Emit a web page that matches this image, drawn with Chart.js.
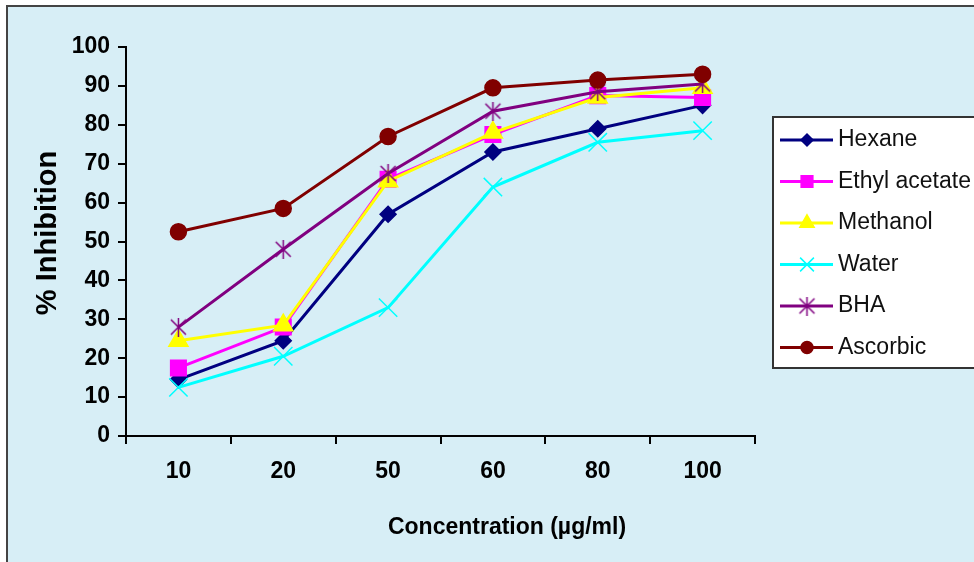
<!DOCTYPE html>
<html>
<head>
<meta charset="utf-8">
<script src="https://cdn.jsdelivr.net/npm/chart.js@4"></script>
<style>
    body { margin: 0; background: #ffffff; }
    #grafico { display: block; }
</style>
</head>
<body>
<canvas id="grafico" width="974" height="562"></canvas>
<script>
const concentracoes = ['10', '20', '50', '60', '80', '100'];

const hexano = [14.5, 24.5, 57, 73, 79, 85];
const acetatoEtila = [17.5, 28, 66, 77.5, 87.5, 87];
const metanol = [24.5, 28.5, 65.5, 78, 87, 89.5];
const agua = [12.5, 20.5, 33, 64, 75.5, 78.5];
const bha = [28, 48, 67.5, 83.5, 88.5, 90.5];
const ascorbico = [52.5, 58.5, 77, 89.5, 91.5, 93];

const tituloX = 'Concentration (µg/ml)';
const tituloY = '% Inhibition';

const fonte = '"Liberation Sans", Arial, sans-serif';

// asterisco do BHA (X com traco vertical, igual ao Excel)
function asterisco(cor, tam) {
    const c = document.createElement('canvas');
    c.width = tam;
    c.height = tam;
    const ctx = c.getContext('2d');
    ctx.strokeStyle = cor;
    ctx.lineWidth = 1.5;
    ctx.beginPath();
    ctx.moveTo(2, 2); ctx.lineTo(tam - 2, tam - 2);
    ctx.moveTo(tam - 2, 2); ctx.lineTo(2, tam - 2);
    ctx.moveTo(tam / 2, 0); ctx.lineTo(tam / 2, tam);
    ctx.stroke();
    return c;
}

function serie(nome, dados, cor, estilo, raio, ordem) {
    return {
        label: nome,
        data: dados,
        borderColor: cor,
        backgroundColor: cor,
        pointBackgroundColor: cor,
        pointBorderColor: cor,
        pointBorderWidth: 1.5,
        pointStyle: estilo,
        pointRadius: raio,
        borderWidth: 3,
        tension: 0,
        order: ordem
    };
}

const dataLinhas = {
    labels: concentracoes,
    datasets: [
        serie('Hexane', hexano, '#000080', 'rectRot', 8, 5),
        serie('Ethyl acetate', acetatoEtila, '#ff00ff', 'rect', 11, 4),
        serie('Methanol', metanol, '#ffff00', 'triangle', 11, 3),
        serie('Water', agua, '#00ffff', 'crossRot', 13, 2),
        serie('BHA', bha, '#800080', asterisco('#800080', 19), 9, 1),
        serie('Ascorbic', ascorbico, '#800000', 'circle', 8, 0)
    ]
};

const fundo = {
    id: 'fundo',
    beforeDraw(chart) {
        const ctx = chart.ctx;
        const w = chart.width, h = chart.height;
        ctx.save();
        ctx.fillStyle = '#ffffff';
        ctx.fillRect(0, 0, w, h);
        ctx.fillStyle = '#d7eef6';
        ctx.fillRect(8, 7, w, h);
        ctx.strokeStyle = '#444444';
        ctx.lineWidth = 2;
        ctx.beginPath();
        ctx.moveTo(7, h); ctx.lineTo(7, 6); ctx.lineTo(w, 6);
        ctx.stroke();
        ctx.restore();
    }
};

// titulos dos eixos (no Excel o titulo X nao fica centrado no eixo)
const titulosEixos = {
    id: 'titulosEixos',
    afterDraw(chart) {
        const ctx = chart.ctx;
        ctx.save();
        ctx.fillStyle = '#000000';
        ctx.textAlign = 'center';
        ctx.textBaseline = 'middle';
        ctx.font = 'bold 23px ' + fonte;
        ctx.fillText(tituloX, 507, 528);
        ctx.translate(48, 233);
        ctx.rotate(-Math.PI / 2);
        ctx.font = 'bold 29px ' + fonte;
        ctx.fillText(tituloY, 0, 0);
        ctx.restore();
    }
};

const legendaCaixa = {
    id: 'legendaCaixa',
    afterDraw(chart) {
        const ctx = chart.ctx;
        ctx.save();
        ctx.fillStyle = '#ffffff';
        ctx.fillRect(773, 117, 220, 251);
        ctx.strokeStyle = '#333333';
        ctx.lineWidth = 2;
        ctx.strokeRect(773, 117, 220, 251);
        chart.data.datasets.forEach((ds, i) => {
            const y = 140 + i * 41.5;
            ctx.strokeStyle = ds.borderColor;
            ctx.lineWidth = 3;
            ctx.beginPath();
            ctx.moveTo(780, y);
            ctx.lineTo(833, y);
            ctx.stroke();
            ctx.fillStyle = ds.pointBackgroundColor;
            ctx.strokeStyle = ds.pointBorderColor;
            ctx.lineWidth = ds.pointBorderWidth;
            Chart.helpers.drawPoint(ctx, {
                pointStyle: ds.pointStyle,
                radius: ds.pointRadius * 0.75,
                rotation: 0,
                borderWidth: ds.pointBorderWidth
            }, 807, y);
            ctx.fillStyle = '#111111';
            ctx.font = '23px ' + fonte;
            ctx.textBaseline = 'middle';
            ctx.textAlign = 'left';
            ctx.fillText(ds.label, 838, y);
        });
        ctx.restore();
    }
};

const config = {
    type: 'line',
    data: dataLinhas,
    plugins: [fundo, titulosEixos, legendaCaixa],
    options: {
        responsive: false,
        animation: false,
        layout: {
            padding: { left: 0, right: 219, top: 47, bottom: 0 }
        },
        plugins: {
            legend: { display: false },
            tooltip: { enabled: false }
        },
        scales: {
            x: {
                offset: true,
                grid: {
                    offset: true,
                    drawOnChartArea: false,
                    drawTicks: true,
                    tickLength: 8,
                    color: '#000000',
                    lineWidth: 2
                },
                border: { color: '#000000', width: 2 },
                ticks: {
                    color: '#000000',
                    padding: 14,
                    font: { family: fonte, size: 23, weight: 'bold' }
                },
                afterFit(escala) { escala.height = 126; }
            },
            y: {
                min: 0,
                max: 100,
                grid: {
                    drawOnChartArea: false,
                    drawTicks: true,
                    tickLength: 8,
                    color: '#000000',
                    lineWidth: 2
                },
                border: { color: '#000000', width: 2 },
                ticks: {
                    stepSize: 10,
                    color: '#000000',
                    padding: 8,
                    font: { family: fonte, size: 23, weight: 'bold' }
                },
                afterFit(escala) { escala.width = 126; }
            }
        }
    }
};

const grafico = new Chart(document.getElementById('grafico'), config);
</script>
</body>
</html>
